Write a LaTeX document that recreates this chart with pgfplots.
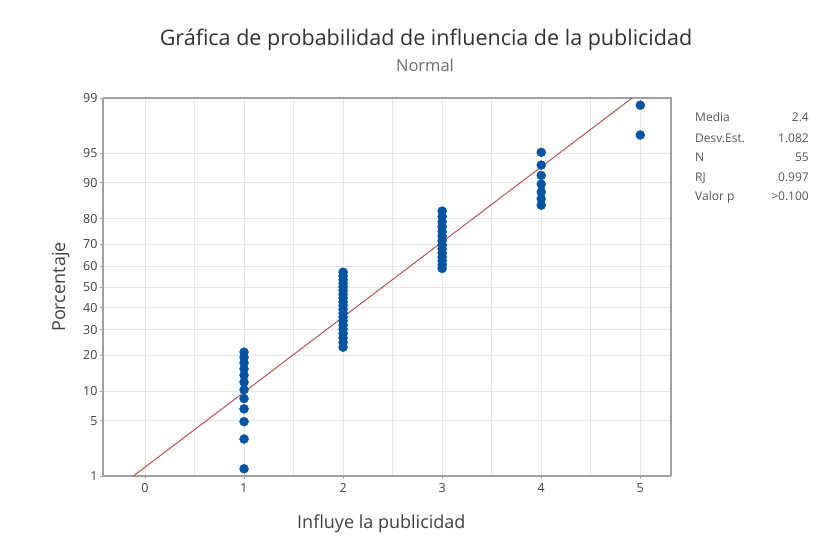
\documentclass[border=0pt]{standalone}
\usepackage{pgfplots}
\pgfplotsset{compat=1.18}
\usepackage{fontspec}
\setmainfont{Open Sans}
\definecolor{mtblue}{RGB}{0,84,166}
\definecolor{mtred}{RGB}{184,84,82}
\definecolor{axgray}{RGB}{160,160,160}
\definecolor{grgray}{RGB}{230,230,230}
\definecolor{txt}{RGB}{65,65,65}
\begin{document}
\begin{tikzpicture}[x=1pt,y=1pt]
\path[fill=white] (0,0) rectangle (823,551);
\begin{axis}[
  at={(103pt,75pt)}, anchor=south west,
  scale only axis, width=568pt, height=378pt,
  xmin=-0.424, xmax=5.31,
  ymin=-2.3263, ymax=2.3263,
  xtick={0,1,2,3,4,5},
  minor xtick={-0.5,0.5,1.5,2.5,3.5,4.5},
  ytick={-2.3263,-1.6449,-1.2816,-0.8416,-0.5244,-0.2533,0,0.2533,0.5244,0.8416,1.2816,1.6449,2.3263},
  yticklabels={1,5,10,20,30,40,50,60,70,80,90,95,99},
  xmajorgrids, xminorgrids, ymajorgrids,
  grid style={grgray, line width=0.9pt},
  minor grid style={grgray, line width=0.9pt},
  axis line style={axgray, line width=1.3pt},
  tick style={axgray, line width=0.9pt},
  tick align=outside, major tick length=3pt, minor tick length=0pt,
  axis x line*=bottom, axis y line*=left,
  tick label style={font=\fontsize{12.5}{13}\selectfont, text=txt},
  xticklabel style={yshift=-1pt},
  yticklabel style={xshift=1pt},
  /pgf/number format/assume math mode=true,
  xlabel={Influye la publicidad},
  ylabel={Porcentaje},
  label style={font=\fontsize{18}{20}\selectfont, text=txt},
  xlabel style={at={(axis description cs:0.49,0)}, anchor=base, yshift=-53pt},
  ylabel style={at={(axis description cs:0,0.5)}, anchor=base, yshift=38pt},
  clip=false,
]
\draw[axgray, line width=1.3pt] (rel axis cs:0,1) -- (rel axis cs:1,1) -- (rel axis cs:1,0);
\addplot[mtred, line width=1pt] coordinates {(-0.1172,-2.3263) (4.9172,2.3263)};
\addplot[only marks, mark=*, mark size=4.5pt, mtblue, mark options={draw=mtblue, fill=mtblue}] table {
x z
1 -2.2374
1 -1.8708
1 -1.6573
1 -1.5002
1 -1.3732
1 -1.2653
1 -1.1703
1 -1.0849
1 -1.0067
1 -0.9343
1 -0.8664
1 -0.8023
2 -0.7414
2 -0.6830
2 -0.6270
2 -0.5728
2 -0.5202
2 -0.4691
2 -0.4192
2 -0.3703
2 -0.3222
2 -0.2749
2 -0.2282
2 -0.1820
2 -0.1362
2 -0.0906
2 -0.0453
2 0.0000
2 0.0453
2 0.0906
2 0.1362
2 0.1820
3 0.2282
3 0.2749
3 0.3222
3 0.3703
3 0.4192
3 0.4691
3 0.5202
3 0.5728
3 0.6270
3 0.6830
3 0.7414
3 0.8023
3 0.8664
3 0.9343
4 1.0067
4 1.0849
4 1.1703
4 1.2653
4 1.3732
4 1.5002
4 1.6573
5 1.8708
5 2.2374
};
\end{axis}
\node[anchor=base, text={rgb,255:red,50;green,50;blue,50}, font=\fontsize{21.5}{24}\selectfont] at (426,505) {Gráfica de probabilidad de influencia de la publicidad};
\node[anchor=base, text={rgb,255:red,110;green,110;blue,110}, font=\fontsize{16.5}{18}\selectfont] at (425,479) {Normal};
\begin{scope}[font=\fontsize{12}{14}\selectfont, text={rgb,255:red,85;green,85;blue,85}]
\node[anchor=base west, inner sep=0pt] at (695,429) {Media};
\node[anchor=base west, inner sep=0pt] at (695,408) {Desv.Est.};
\node[anchor=base west, inner sep=0pt] at (695,389) {N};
\node[anchor=base west, inner sep=0pt] at (695,369) {RJ};
\node[anchor=base west, inner sep=0pt] at (695,350) {Valor p};
\node[anchor=base east, inner sep=0pt] at (809,429) {2.4};
\node[anchor=base east, inner sep=0pt] at (809,408) {1.082};
\node[anchor=base east, inner sep=0pt] at (809,389) {55};
\node[anchor=base east, inner sep=0pt] at (809,369) {0.997};
\node[anchor=base east, inner sep=0pt] at (809,350) {>0.100};
\end{scope}
\end{tikzpicture}
\end{document}
